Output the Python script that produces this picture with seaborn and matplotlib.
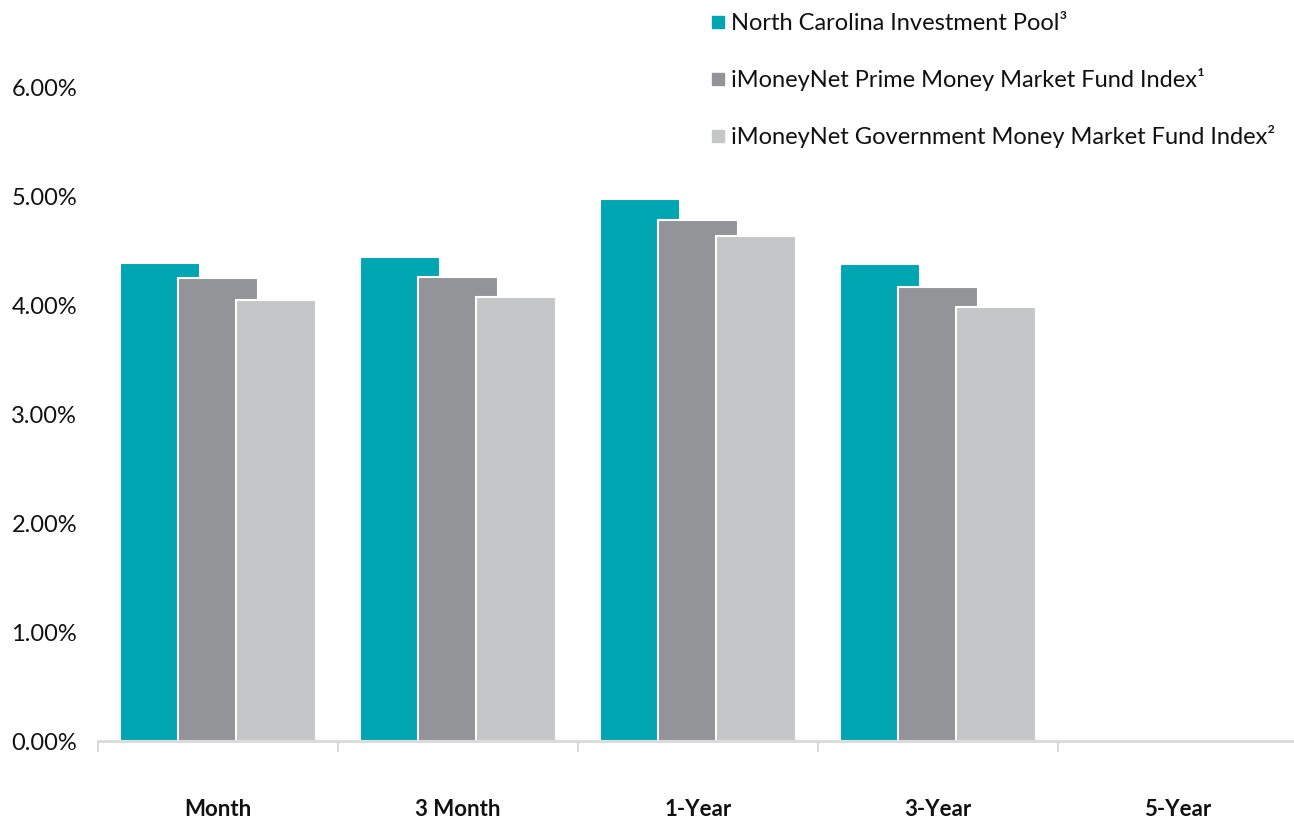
import matplotlib
matplotlib.use('Agg')
import matplotlib.pyplot as plt
from matplotlib.lines import Line2D
from matplotlib.ticker import FuncFormatter, FixedLocator
import seaborn as sns
import pandas as pd
import numpy as np

# data
periods = ['Month', '3 Month', '1-Year', '3-Year', '5-Year']
ncip = [4.39, 4.45, 4.98, 4.38, np.nan]
prime = [4.25, 4.26, 4.79, 4.17, np.nan]
govt = [4.05, 4.08, 4.64, 3.99, np.nan]
series = ['North Carolina Investment Pool³',
          'iMoneyNet Prime Money Market Fund Index¹',
          'iMoneyNet Government Money Market Fund Index²']
colors = ['#00a6b1', '#939497', '#c5c6c8']

rows = []
for name, vals in zip(series, [ncip, prime, govt]):
    for p, v in zip(periods, vals):
        rows.append({'period': p, 'series': name, 'value': v})
df = pd.DataFrame(rows).dropna()

sns.set_style('white')
plt.rcParams['font.family'] = ['Lato', 'DejaVu Sans']

fig = plt.figure(figsize=(12.94, 8.23), dpi=100)
ax = fig.add_axes([98 / 1294, 1 - 741 / 823, 1200 / 1294, (741 - 88) / 823])

sns.barplot(data=df, x='period', y='value', hue='series', order=periods,
            hue_order=series, palette=dict(zip(series, colors)),
            width=0.725, errorbar=None, legend=False, ax=ax,
            edgecolor='white', linewidth=1.5, saturation=1)

# make the bars overlap like the original
bw = 0.335
for patch in ax.patches:
    c = patch.get_x() + patch.get_width() / 2
    patch.set_width(bw)
    patch.set_x(c - bw / 2)

ax.set_ylim(0, 6)
ax.set_xlim(-0.5, 4.5)
ax.yaxis.set_major_formatter(FuncFormatter(lambda v, _: f'{v:.2f}%'))
ax.set_yticks([0, 1, 2, 3, 4, 5, 6])
ax.tick_params(axis='y', length=0, labelsize=17, pad=15, colors='#111111')
ax.tick_params(axis='x', which='major', length=0, labelsize=16, pad=42, colors='#111111')
for lab in ax.get_xticklabels():
    lab.set_fontweight('bold')
ax.xaxis.set_minor_locator(FixedLocator(np.arange(-0.5, 4.6, 1)))
ax.tick_params(axis='x', which='minor', bottom=True, length=8, width=1.5,
               color='#d9d9d9', direction='out')
ax.set_xlabel('')
ax.set_ylabel('')

for s in ['top', 'right', 'left']:
    ax.spines[s].set_visible(False)
ax.spines['bottom'].set_color('#d9d9d9')
ax.spines['bottom'].set_linewidth(2)

handles = [Line2D([], [], marker='s', ls='', color=c, markersize=9) for c in colors]
leg = fig.legend(handles, series, loc='upper left', bbox_to_anchor=(707 / 1294, 1 - 13 / 823),
                 frameon=False, fontsize=17, labelspacing=1.44, handletextpad=0.05,
                 handlelength=0.95, borderaxespad=0, borderpad=0)
for t in leg.get_texts():
    t.set_color('#111111')

fig.savefig('out.png', dpi=100)
